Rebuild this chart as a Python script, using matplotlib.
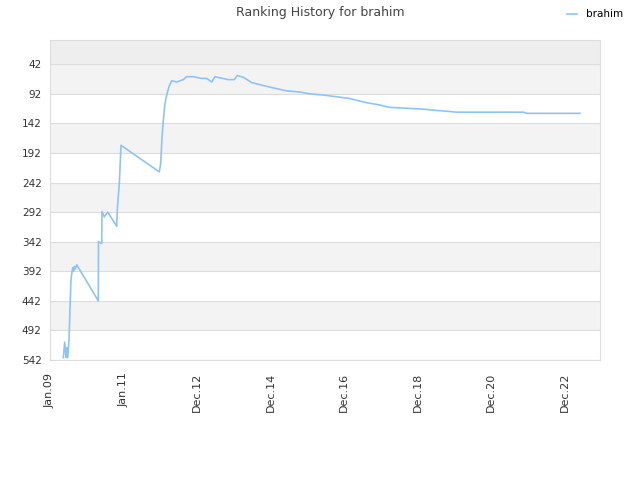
import matplotlib.pyplot as plt
import numpy as np

# decimal year, ranking
years = [2009.362, 2009.40, 2009.435, 2009.454, 2009.482, 2009.517, 2009.544, 2009.571,
         2009.599, 2009.62, 2009.64, 2009.66, 2009.69, 2009.727,
         2010.314, 2010.32, 2010.407, 2010.415, 2010.478, 2010.570, 2010.815, 2010.831,
         2010.886, 2010.91, 2010.932, 2011.974, 2012.012, 2012.048, 2012.083, 2012.129,
         2012.175, 2012.238, 2012.311, 2012.448, 2012.627, 2012.720, 2012.899, 2013.128,
         2013.264, 2013.400, 2013.490, 2013.626, 2013.852, 2014.015, 2014.097, 2014.260,
         2014.488, 2014.804, 2015.076, 2015.441, 2015.803, 2016.075, 2016.429, 2016.801,
         2017.163, 2017.346, 2017.618, 2017.980, 2018.252, 2018.613, 2019.158, 2019.702,
         2020.067, 2020.429, 2021.879, 2021.971, 2023.422]
ranks = [538, 512, 538, 521, 538, 508, 455, 406,
         393, 386, 392, 384, 388, 381,
         442, 342, 345, 291, 300, 292, 316, 288,
         243, 210, 179, 224, 210, 165, 137, 108,
         94, 80, 70, 72, 68, 63, 63, 66,
         66, 72, 63, 65, 68, 68, 61, 64,
         73, 78, 82, 87, 89, 92, 94, 97,
         100, 103, 107, 111, 115, 116, 118, 121,
         123, 123, 123, 125, 125]

tick_years = [2009, 2011, 2013, 2015, 2017, 2019, 2021, 2023]
tick_labels = ["Jan.09", "Jan.11", "Dec.12", "Dec.14", "Dec.16", "Dec.18", "Dec.20", "Dec.22"]
rank_ticks = [42, 92, 142, 192, 242, 292, 342, 392, 442, 492, 542]

fig = plt.figure(figsize=(6.4, 4.8), dpi=100)
ax = fig.add_axes([50 / 640, 1 - 360 / 480, 550 / 640, 320 / 480])

# alternating bands
ax.axhspan(1, 42, color="#eeeeee", lw=0)
for i in range(len(rank_ticks) - 1):
    if i % 2 == 0:
        ax.axhspan(rank_ticks[i], rank_ticks[i + 1], color="#f3f3f3", lw=0)
for r in rank_ticks:
    ax.axhline(r, color="#dddddd", lw=0.8)

ax.plot(years, ranks, color="#90c3f5", lw=1.2, label="brahim")

ax.set_ylim(542, 1)
ax.set_xlim(2009, 2009 + 550 / 36.75)
ax.set_yticks(rank_ticks)
ax.set_xticks(tick_years)
ax.set_xticklabels(tick_labels, rotation=90)
ax.tick_params(colors="#333333", labelsize=7.5, length=0)
ax.tick_params(axis="y", pad=6)
ax.tick_params(axis="x", pad=9)
for lbl in ax.get_xticklabels():
    lbl.set_fontsize(8)
for s in ax.spines.values():
    s.set_color("#dddddd")

fig.suptitle("Ranking History for brahim", fontsize=9, color="#444444", y=0.987)
fig.legend(loc="upper right", bbox_to_anchor=(0.988, 1.0), frameon=False,
           fontsize=7.5, handlelength=1.0, handletextpad=0.8)

fig.savefig("out.png", dpi=100)
